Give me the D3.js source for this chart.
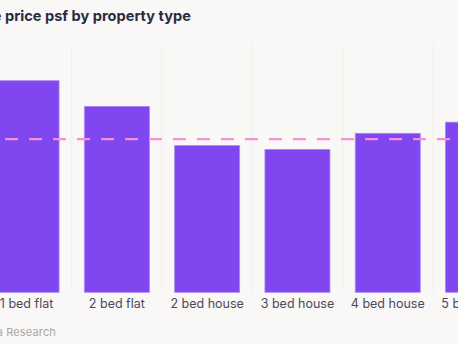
<!DOCTYPE html>
<html><head><meta charset="utf-8">
<script src="https://cdn.jsdelivr.net/npm/d3@7"></script>
<style>
html,body{margin:0;padding:0;background:#f9f8f6;overflow:hidden;}
svg{display:block;}
</style></head>
<body>
<script>
const categories = ["1 bed flat","2 bed flat","2 bed house","3 bed house","4 bed house","5 bed house"];
const values = [551, 484, 382, 372, 414, 443];
const averageValue = [399];
const titleText = "Average price psf by property type";
const sourceText = "Source: Zoopla Research";

const W = 458, H = 344;
const svg = d3.select("body").append("svg").attr("width", W).attr("height", H);
svg.append("rect").attr("width", W).attr("height", H).attr("fill", "#f9f8f6");

const step = 90.3;
const x0 = -18.6;
const x = d3.scaleBand().domain(categories).range([x0, x0 + step * categories.length]).paddingInner(0.28).paddingOuter(0.14);
const y = d3.scaleLinear().domain([0, 600]).range([292.3, 292.3 - 600 * 0.384]);

// grid lines between categories
svg.append("g").selectAll("line").data(categories.slice(1)).join("line")
  .attr("x1", d => x(d) - x.step() * x.paddingInner() / 2)
  .attr("x2", d => x(d) - x.step() * x.paddingInner() / 2)
  .attr("y1", 44).attr("y2", 292)
  .attr("stroke", "#f1efec").attr("stroke-width", 1);

// bars
svg.append("g").selectAll("rect").data(values).join("rect")
  .attr("x", (d, i) => x(categories[i]))
  .attr("width", x.bandwidth())
  .attr("y", d => y(d))
  .attr("height", d => y(0) - y(d))
  .attr("fill", "#8047f0")
  .attr("stroke", "#a987f6").attr("stroke-width", 0.8);

// average dashed line
svg.append("g").selectAll("line").data(averageValue).join("line")
  .attr("x1", 5).attr("x2", W + 10)
  .attr("y1", d => y(d)).attr("y2", d => y(d))
  .attr("stroke", "#f58fd8").attr("stroke-width", 2.2)
  .attr("stroke-dasharray", "13,11");

// x axis labels
const xAxis = d3.axisBottom(x).tickSize(0).tickPadding(0);
const gx = svg.append("g").attr("transform", "translate(0,299)").call(xAxis);
gx.select(".domain").remove();
gx.selectAll("text").attr("font-family", "Inter, 'Open Sans', sans-serif")
  .attr("font-size", 12.5).attr("fill", "#4a4a5a").attr("dy", "0.71em");

// title
const t = svg.append("text").attr("y", 20.5)
  .attr("font-family", "Inter, 'Open Sans', sans-serif").attr("font-weight", 700)
  .attr("font-size", 15).attr("fill", "#2b2b42");
const pre = t.append("tspan").text("Average ");
const rest = t.append("tspan").text(titleText.replace("Average ", ""));
const restW = rest.node().getComputedTextLength();
const fs = 15 * 186 / restW;
t.attr("font-size", fs);
const preW = pre.node().getComputedTextLength();
t.attr("x", 5 - preW);

// source
svg.append("text").attr("x", 56).attr("y", 335.5).attr("text-anchor", "end")
  .attr("font-family", "Inter, 'Open Sans', sans-serif").attr("font-size", 11)
  .attr("fill", "#a9a7a5").attr("letter-spacing", "0.15").text(sourceText);
</script>
</body></html>
